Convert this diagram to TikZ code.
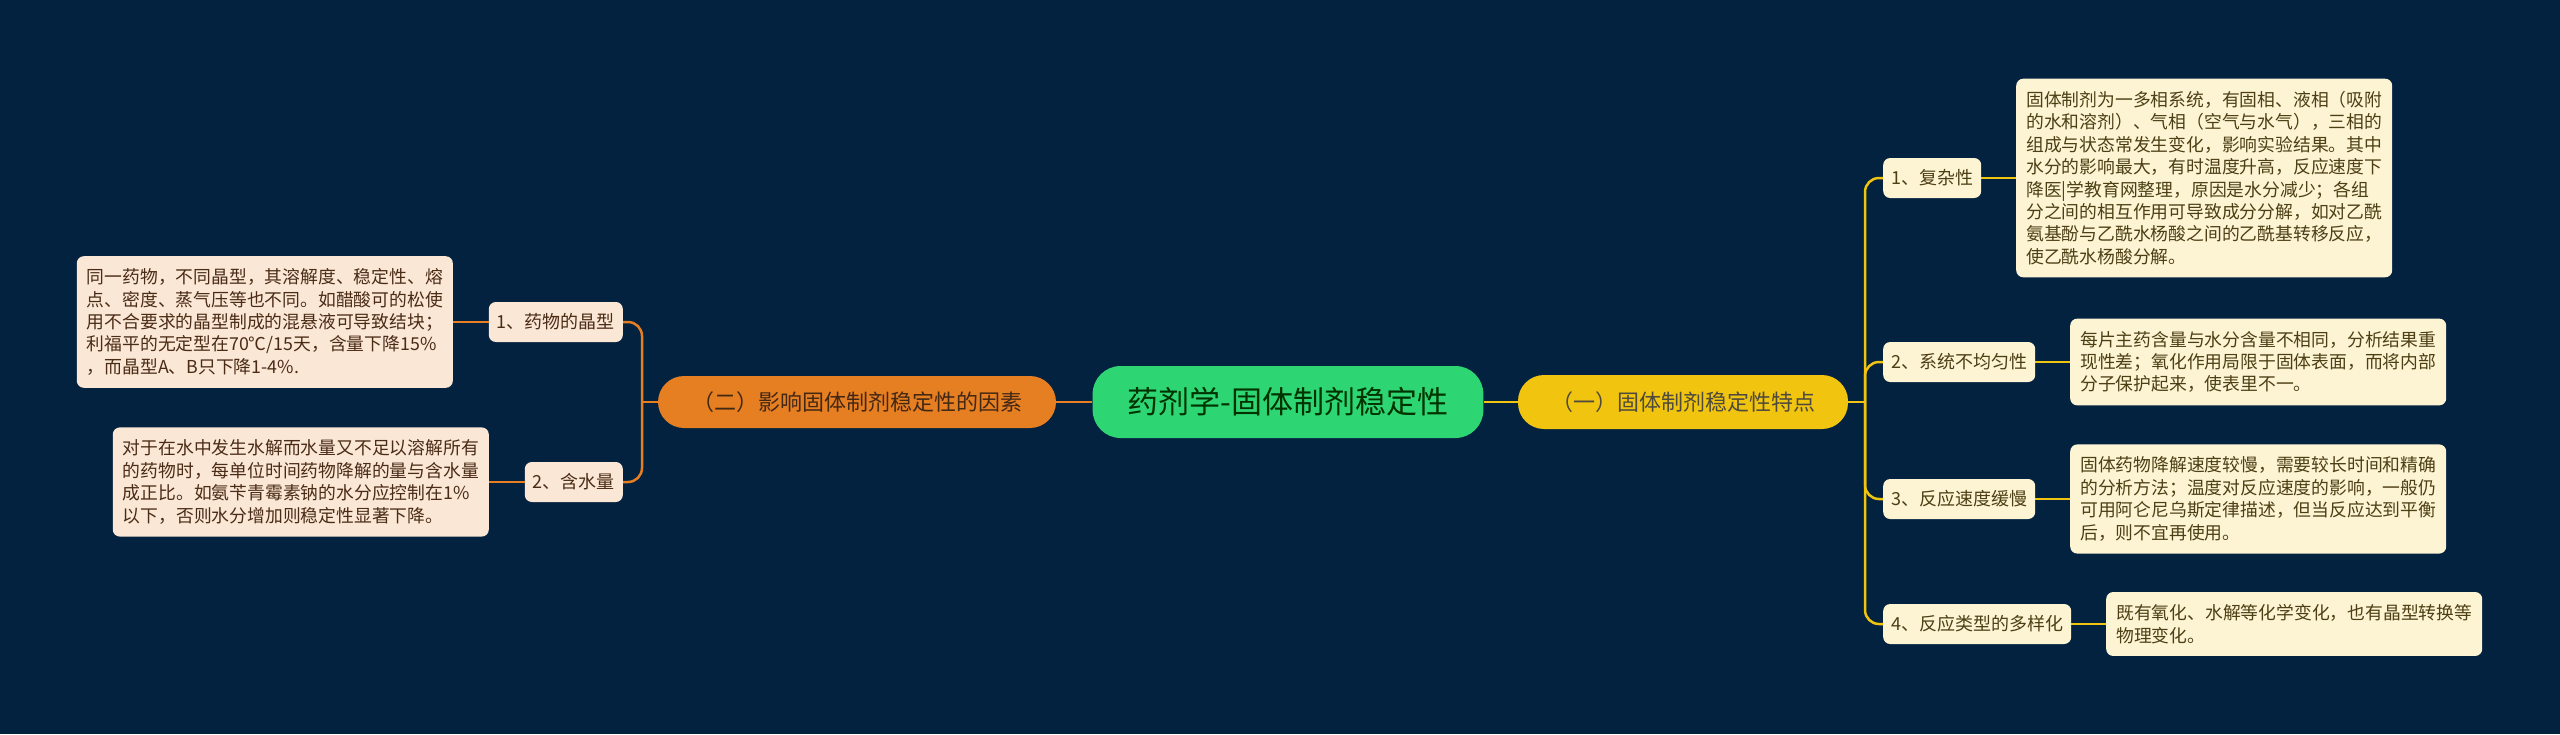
\documentclass[tikz,border=0pt]{standalone}
\usepackage{fontspec}
\setmainfont{Noto Sans CJK SC}
\usepackage{tikz}
\usetikzlibrary{calc}
\definecolor{bgnavy}{RGB}{2,34,64}
\definecolor{rootgreen}{RGB}{46,213,115}
\definecolor{mainyellow}{RGB}{241,196,15}
\definecolor{mainorange}{RGB}{230,126,34}
\definecolor{creamfill}{RGB}{253,244,212}
\definecolor{peachfill}{RGB}{251,231,214}
\definecolor{olivetext}{RGB}{77,63,20}
\definecolor{browntext}{RGB}{74,44,22}
\newcommand\leaffont{\fontsize{17.8pt}{22.4pt}\selectfont}
\newcommand\subfont{\fontsize{18pt}{22pt}\selectfont}

\begin{document}
\begin{tikzpicture}[x=1pt,y=-1pt,
  rootbox/.style={fill=rootgreen,rounded corners=28pt,minimum height=72pt,inner xsep=35pt,text=black!80!green,font=\fontsize{31pt}{36pt}\selectfont},
  yellowbox/.style={fill=mainyellow,rounded corners=26pt,minimum height=54pt,inner xsep=33pt,text=black!80!yellow,font=\fontsize{22pt}{26pt}\selectfont},
  orangebox/.style={fill=mainorange,rounded corners=26pt,minimum height=52pt,inner xsep=34pt,text=browntext!90!black,font=\fontsize{22pt}{26pt}\selectfont},
  rsub/.style={fill=creamfill,rounded corners=7pt,minimum height=40pt,inner xsep=8pt,text=olivetext,font=\subfont},
  lsub/.style={fill=peachfill,rounded corners=7pt,minimum height=40pt,inner xsep=8pt,text=browntext,font=\subfont},
  rleaf/.style={fill=creamfill,rounded corners=7pt,inner xsep=10pt,inner ysep=12.5pt,align=left,text=olivetext,font=\leaffont},
  lleaf/.style={fill=peachfill,rounded corners=7pt,inner xsep=10pt,inner ysep=12.5pt,align=left,text=browntext,font=\leaffont},
  ylink/.style={draw=mainyellow,line width=2.5pt},
  olink/.style={draw=mainorange,line width=2.5pt}]
\fill[bgnavy] (0,0) rectangle (2560,734);
\useasboundingbox (0,0) rectangle (2560,734);

\node[rootbox] (root) at (1288,402) {药剂学-固体制剂稳定性};
\node[yellowbox] (tedian) at (1683,402) {（一）固体制剂稳定性特点};
\node[orangebox] (yinsu) at (857,402) {（二）影响固体制剂稳定性的因素};

\node[rsub,anchor=west] (fuza) at (1883,178) {1、复杂性};
\node[rsub,anchor=west] (junyun) at (1883,362) {2、系统不均匀性};
\node[rsub,anchor=west] (sudu) at (1883,499) {3、反应速度缓慢};
\node[rsub,anchor=west] (leixing) at (1883,624) {4、反应类型的多样化};

\node[rleaf,anchor=west] (fuzatxt) at (2016,178) {固体制剂为一多相系统，有固相、液相（吸附\\的水和溶剂）、气相（空气与水气），三相的\\组成与状态常发生变化，影响实验结果。其中\\水分的影响最大，有时温度升高，反应速度下\\降医|学教育网整理，原因是水分减少；各组\\分之间的相互作用可导致成分分解，如对乙酰\\氨基酚与乙酰水杨酸之间的乙酰基转移反应，\\使乙酰水杨酸分解。};
\node[rleaf,anchor=west] (junyuntxt) at (2070,362) {每片主药含量与水分含量不相同，分析结果重\\现性差；氧化作用局限于固体表面，而将内部\\分子保护起来，使表里不一。};
\node[rleaf,anchor=west] (sudutxt) at (2070,499) {固体药物降解速度较慢，需要较长时间和精确\\的分析方法；温度对反应速度的影响，一般仍\\可用阿仑尼乌斯定律描述，但当反应达到平衡\\后，则不宜再使用。};
\node[rleaf,anchor=west] (leixingtxt) at (2106,624) {既有氧化、水解等化学变化，也有晶型转换等\\物理变化。};

\node[lsub,anchor=east] (jingxing) at (623,322) {1、药物的晶型};
\node[lsub,anchor=east] (hanshui) at (623,482) {2、含水量};

\node[lleaf,anchor=east] (jingxingtxt) at (453,322) {同一药物，不同晶型，其溶解度、稳定性、熔\\点、密度、蒸气压等也不同。如醋酸可的松使\\用不合要求的晶型制成的混悬液可导致结块；\\利福平的无定型在70℃/15天，含量下降15\%\\，而晶型A、B只下降1-4\%.};
\node[lleaf,anchor=east] (hanshuitxt) at (489,482) {对于在水中发生水解而水量又不足以溶解所有\\的药物时，每单位时间药物降解的量与含水量\\成正比。如氨苄青霉素钠的水分应控制在1\%\\以下，否则水分增加则稳定性显著下降。};

\coordinate (rjoin) at (1865,402);
\coordinate (ljoin) at (642,402);

\draw[ylink] (root.east) -- (tedian.west);
\draw[olink] (root.west) -- (yinsu.east);
\draw[ylink] (tedian.east) -- (rjoin);
\foreach \s in {fuza,junyun,sudu,leixing}
  \draw[ylink,rounded corners=14pt] (rjoin) |- (\s.west);
\draw[ylink] (fuza.east) -- (fuzatxt.west);
\draw[ylink] (junyun.east) -- (junyuntxt.west);
\draw[ylink] (sudu.east) -- (sudutxt.west);
\draw[ylink] (leixing.east) -- (leixingtxt.west);

\draw[olink] (yinsu.west) -- (ljoin);
\foreach \s in {jingxing,hanshui}
  \draw[olink,rounded corners=14pt] (ljoin) |- (\s.east);
\draw[olink] (jingxing.west) -- (jingxingtxt.east);
\draw[olink] (hanshui.west) -- (hanshuitxt.east);
\end{tikzpicture}
\end{document}
